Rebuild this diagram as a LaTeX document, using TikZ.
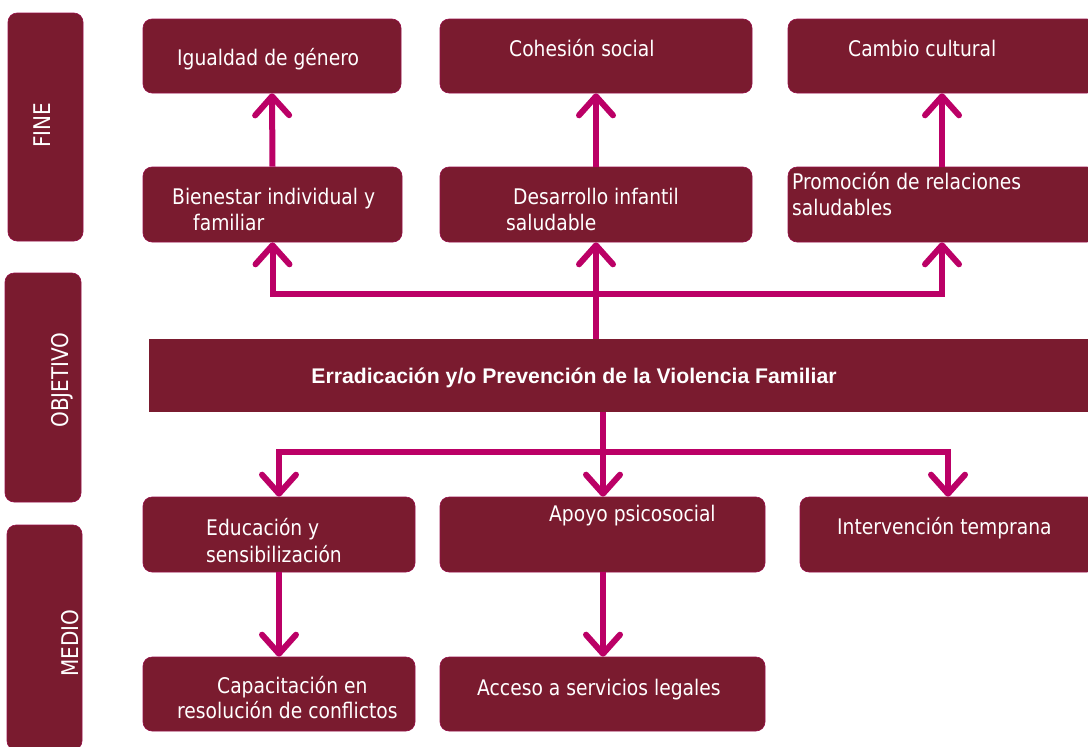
\documentclass[tikz,border=0pt]{standalone}
\usepackage{fontspec}
\setmainfont{DejaVu Sans}[FakeStretch=0.87]
\newfontfamily\titulofont{Liberation Sans}
\usepackage{xcolor}
\usepackage{tikz}
\usetikzlibrary{arrows.meta, positioning, calc}

\definecolor{vino}{RGB}{122,27,47}
\definecolor{rosa}{RGB}{187,0,102}

\begin{document}
\begin{tikzpicture}[x=1pt, y=-1pt,
  caja/.style={fill=vino, draw=rosa!45!vino, line width=0.6pt, rounded corners=9pt, inner sep=0pt},
  barra/.style={fill=vino, draw=none, inner sep=0pt},
  txt/.style={text=white, inner sep=0pt, font=\fontsize{21.5}{26}\selectfont},
  lado/.style={text=white, inner sep=0pt, rotate=90, font=\fontsize{23}{27}\selectfont},
  flecha/.style={draw=rosa, line width=6pt, -{Straight Barb[length=19pt, width=34pt, line cap=round, line join=round]}}]
  \path[use as bounding box] (0,0) rectangle (1088,747);
  % Left column: level labels
  \node[caja, minimum width=75, minimum height=228] (fine) at (45.5,127) {};
  \node[caja, minimum width=76, minimum height=229] (objetivo) at (43,387.5) {};
  \node[caja, minimum width=75, minimum height=225] (medio) at (44.5,637.5) {};
  \node[lado] (tFine) at (42,125) {FINE};
  \node[lado] (tObjetivo) at (62,380) {OBJETIVO};
  \node[lado] (tMedio) at (70,643) {MEDIO};
  % Fines (top rows)
  \node[caja, minimum width=258, minimum height=74] (igualdad) at (272,56) {};
  \node[caja, minimum width=312, minimum height=74] (cohesion) at (596,56) {};
  \node[caja, minimum width=308, minimum height=74] (cambio) at (942,56) {};
  \node[caja, minimum width=259, minimum height=75] (bienestar) at (272.5,204.5) {};
  \node[caja, minimum width=312, minimum height=75] (desarrollo) at (596,204.5) {};
  \node[caja, minimum width=308, minimum height=75] (promocion) at (942,204.5) {};
  % Objective bar
  \node[barra, minimum width=947, minimum height=73] (meta) at (622.5,375.5) {};
  \node[text=white, inner sep=0pt, font=\titulofont\bfseries\fontsize{21.2}{25}\selectfont] (tMeta) at (574,378) {Erradicación y/o Prevención de la Violencia Familiar};
  % Medios (bottom rows)
  \node[caja, minimum width=272, minimum height=75] (educacion) at (279,534.5) {};
  \node[caja, minimum width=325, minimum height=75] (apoyo) at (602.5,534.5) {};
  \node[caja, minimum width=296, minimum height=75] (intervencion) at (948,534.5) {};
  \node[caja, minimum width=272, minimum height=74] (capacitacion) at (279,694) {};
  \node[caja, minimum width=325, minimum height=74] (acceso) at (602.5,694) {};
  % Box texts, one node per printed line
  \foreach \nm/\x/\y/\t in {
      tIgualdad/177/65/{Igualdad de género},
      tCohesion/509/56/{Cohesión social},
      tCambio/848/56/{Cambio cultural},
      tBienestarA/172/204/{Bienestar individual y},
      tBienestarB/193/230/{familiar},
      tDesarrolloA/513/204/{Desarrollo infantil},
      tDesarrolloB/506/230/{saludable},
      tPromocionA/792/189/{Promoción de relaciones},
      tPromocionB/792/215/{saludables},
      tEducacionA/206/535/{Educación y},
      tEducacionB/206/562/{sensibilización},
      tApoyo/549/521/{Apoyo psicosocial},
      tIntervencion/837/534/{Intervención temprana},
      tCapacitacionA/217/693/{Capacitación en},
      tCapacitacionB/177/718/{resolución de conflictos},
      tAcceso/477/695/{Acceso a servicios legales}} {
    \node[txt, anchor=base west] (\nm) at (\x,\y) {\t};
  }
  % Branch points
  \coordinate (ramaA) at (596,294);
  \coordinate (ramaB) at (603,452);
  % Arrows up to the fines
  \draw[flecha] (bienestar.north) -- (igualdad.south);
  \draw[flecha] (desarrollo.north) -- (cohesion.south);
  \draw[flecha] (promocion.north) -- (cambio.south);
  \draw[flecha] (meta.north -| ramaA) -- (desarrollo.south);
  \draw[flecha] (ramaA) -| (bienestar.south);
  \draw[flecha] (ramaA) -| (promocion.south);
  % Arrows down to the medios
  \draw[flecha] (meta.south -| ramaB) -- (apoyo.north -| ramaB);
  \draw[flecha] (ramaB) -| (educacion.north);
  \draw[flecha] (ramaB) -| (intervencion.north);
  \draw[flecha] (educacion.south) -- (capacitacion.north);
  \draw[flecha] (apoyo.south -| ramaB) -- (acceso.north -| ramaB);
\end{tikzpicture}
\end{document}
